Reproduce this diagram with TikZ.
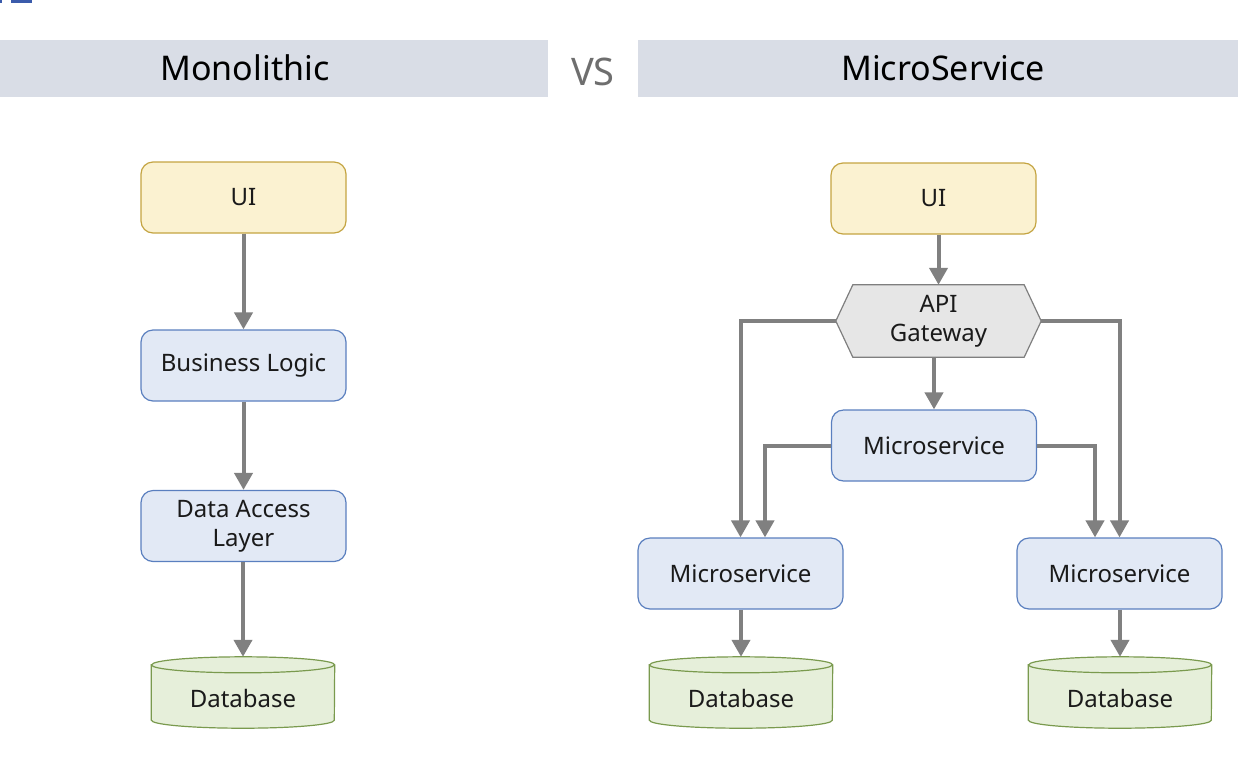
\documentclass[tikz,border=0pt]{standalone}
\usepackage{fontspec}
\setmainfont{Noto Sans}
\usetikzlibrary{arrows.meta,calc,backgrounds}
\definecolor{hdr}{HTML}{D9DDE6}
\definecolor{uifill}{HTML}{FBF2D1}
\definecolor{uiline}{HTML}{C4A442}
\definecolor{bfill}{HTML}{E2E9F5}
\definecolor{bline}{HTML}{5A7FBF}
\definecolor{gfill}{HTML}{E6EFDA}
\definecolor{gline}{HTML}{7A9A4E}
\definecolor{gwfill}{HTML}{E6E6E6}
\definecolor{gwline}{HTML}{7F7F7F}
\definecolor{arrc}{HTML}{808080}
\definecolor{vsc}{HTML}{6E6E6E}
\definecolor{txtc}{HTML}{1A1A1A}
\definecolor{cornermarkc}{HTML}{3B5BAB}
\tikzset{
  x=1pt, y=1pt,
  basebox/.style={rounded corners=12pt, minimum width=205pt, minimum height=71pt,
    line width=1.2pt, align=center, inner sep=0pt, text=txtc, font=\fontsize{24}{29}\selectfont},
  uibox/.style={basebox, draw=uiline, fill=uifill},
  svcbox/.style={basebox, draw=bline, fill=bfill},
  gwnode/.style={minimum width=205pt, minimum height=72pt, inner sep=0pt, align=center,
    text=txtc, font=\fontsize{24}{29}\selectfont},
  dbnode/.style={minimum width=183pt, minimum height=71pt, inner sep=0pt,
    text height=29pt, text depth=0pt, text=txtc, font=\fontsize{24}{29}\selectfont},
  dbline/.style={draw=gline, fill=gfill, line width=1.2pt},
  arr/.style={draw=arrc, line width=4pt, -{Triangle[width=18pt,length=17pt]}},
  hdrtext/.style={font=\fontsize{34}{38}\selectfont, inner sep=0pt},
}
\newcommand\dbcyl[1]{%
  \begin{scope}[on background layer]
  \draw[dbline] ($(#1.north west)+(0,-8)$) -- ($(#1.south west)+(0,8)$)
     arc[start angle=180,end angle=360,x radius=91.5,y radius=8]
     -- ($(#1.north east)+(0,-8)$)
     arc[start angle=0,end angle=180,x radius=91.5,y radius=8] -- cycle;
  \draw[draw=gline, line width=1.2pt] ($(#1.north west)+(0,-8)$)
     arc[start angle=180,end angle=360,x radius=91.5,y radius=8];
  \end{scope}}
\begin{document}
\begin{tikzpicture}
\useasboundingbox (0,0) rectangle (1238,-761);
% top-left fragment
\fill[cornermarkc] (0,0) rectangle (1.5,-2.5);
\fill[cornermarkc] (10.5,0) rectangle (32,-2.5);
% headers
\fill[hdr] (0,-40) rectangle (548,-97);
\fill[hdr] (638,-40) rectangle (1238,-97);
\node[hdrtext] (hmono) at (245,-68) {Monolithic};
\node[hdrtext] (hmicro) at (943,-68) {MicroService};
\node[hdrtext, text=vsc, font=\fontsize{38}{42}\selectfont] (vs) at (593,-72) {VS};

% Monolithic column
\node[uibox] (lui) at (243.5,-197.5) {UI};
\node[svcbox] (lbl) at (243.5,-365.5) {Business Logic};
\node[svcbox] (ldal) at (243.5,-526) {Data Access\\Layer};
\node[dbnode] (ldb) at (243,-692.5) {Database};
\dbcyl{ldb}
\draw[arr] (lui) -- (lbl);
\draw[arr] (lbl) -- (ldal);
\draw[arr] (ldal.south -| ldb.north) -- (ldb.north);

% MicroService column
\node[uibox] (rui) at (933.5,-198.5) {UI};
\node[gwnode] (gw) at (938.5,-321) {API\\Gateway};
\begin{scope}[on background layer]
\draw[draw=gwline, fill=gwfill, line width=1.2pt]
  (gw.west) -- ($(gw.north west)+(17,0)$) -- ($(gw.north east)+(-17,0)$)
  -- (gw.east) -- ($(gw.south east)+(-17,0)$) -- ($(gw.south west)+(17,0)$) -- cycle;
\end{scope}
\node[svcbox] (mms) at (934,-445.5) {Microservice};
\node[svcbox] (lms) at (740.5,-573.5) {Microservice};
\node[svcbox] (rms) at (1119.5,-573.5) {Microservice};
\node[dbnode] (mdb1) at (741,-692.5) {Database};
\node[dbnode] (mdb2) at (1120,-692.5) {Database};
\dbcyl{mdb1}
\dbcyl{mdb2}

\draw[arr] (rui.south -| gw.north) -- (gw.north);
\draw[arr] (gw.south -| mms.north) -- (mms.north);
\draw[arr] (gw.west) -| (lms.north);
\draw[arr] (gw.east) -| (rms.north);
\draw[arr] (mms.west) -| ($(lms.north)+(24.5,0)$);
\draw[arr] (mms.east) -| ($(rms.north)+(-24.5,0)$);
\draw[arr] (lms.south -| mdb1.north) -- (mdb1.north);
\draw[arr] (rms.south -| mdb2.north) -- (mdb2.north);
\end{tikzpicture}
\end{document}
